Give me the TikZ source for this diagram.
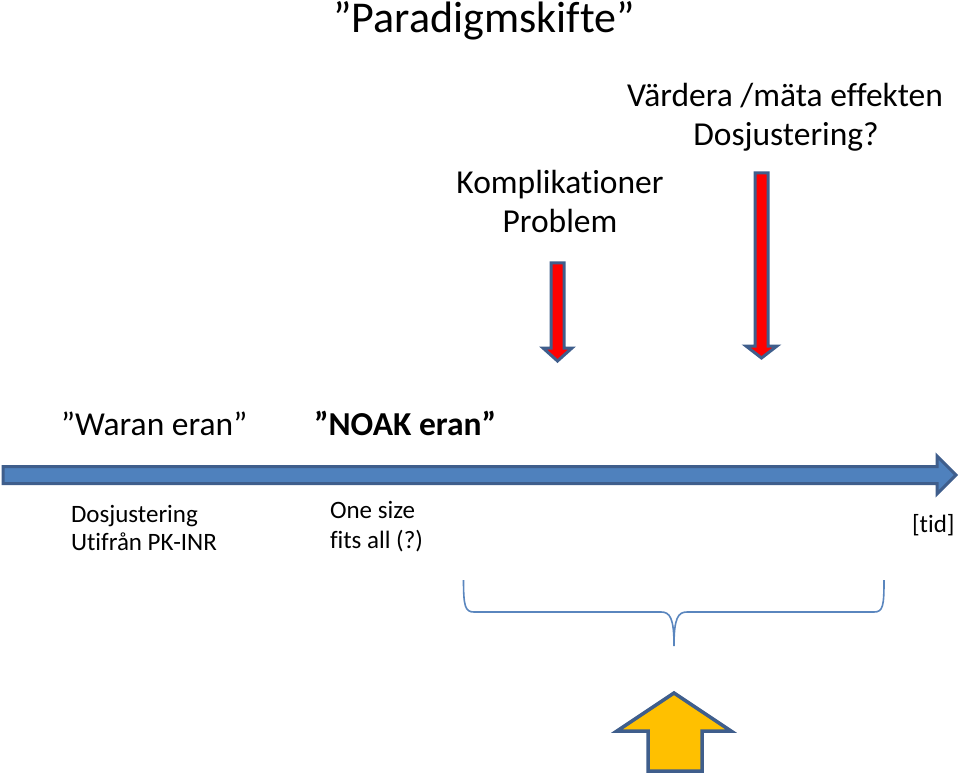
\documentclass[tikz,border=0pt]{standalone}
\usepackage{fontspec}
\setmainfont{Carlito}[Ligatures={NoCommon,NoContextual}]
\definecolor{edgeblue}{HTML}{3F5E8C}
\definecolor{lineblue}{HTML}{4F81BD}
\definecolor{braceblue}{HTML}{5A86BE}
\definecolor{arrowyellow}{HTML}{FFC000}
\begin{document}
\begin{tikzpicture}[x=1pt,y=-1pt,
  txt/.style={inner sep=0pt,outer sep=0pt,text=black},
  big/.style={txt,font=\fontsize{44}{53}\selectfont},
  mid/.style={txt,font=\fontsize{33.5}{40}\selectfont},
  small/.style={txt,font=\fontsize{25}{30}\selectfont},
  redarrow/.style={fill=red,draw=edgeblue,line width=3pt,line join=miter},
  blockarrow/.style={draw=edgeblue,line width=3pt,line join=miter}]
\useasboundingbox (0,0) rectangle (960,775);

% title
\node[big,anchor=base] (title) at (484,33) {”Paradigmskifte”};

% upper labels
\node[mid,anchor=base] (vard) at (785,107) {Värdera /mäta effekten};
\node[mid,anchor=base] (dosq) at (786,146) {Dosjustering?};
\node[mid,anchor=base] (komp) at (560,194) {Komplikationer};
\node[mid,anchor=base] (prob) at (560,233) {Problem};

% red arrows
\draw[redarrow] (551,263) -- (564,263) -- (564,348) -- (572,348) -- (557.5,361)
  -- (543,348) -- (551,348) -- cycle;
\draw[redarrow] (755,173) -- (768,173) -- (768,346) -- (777,346) -- (761.5,358)
  -- (746,346) -- (755,346) -- cycle;

% era labels
\node[mid,anchor=base west] (waran) at (61,435) {”Waran eran”};
\node[mid,anchor=base west,font=\fontsize{33.5}{40}\selectfont\bfseries] (noak) at (314,435) {”NOAK eran”};

% timeline arrow
\draw[blockarrow,fill=lineblue] (3,466.5) -- (937,466.5) -- (937,456) -- (956,475)
  -- (937,494) -- (937,483.5) -- (3,483.5) -- cycle;

% lower labels
\node[small,anchor=base west] (dos1) at (71,522) {Dosjustering};
\node[small,anchor=base west] (dos2) at (71,550) {Utifrån PK-INR};
\node[small,anchor=base west] (one1) at (330,518) {One size};
\node[small,anchor=base west] (one2) at (330,548) {fits all (?)};
\node[small,anchor=base west] (tid) at (912,532) {[tid]};

% brace
\draw[braceblue,line width=1.6pt] (463.5,580) .. controls (463.5,606) and (465,612) .. (474,612)
  -- (661,612) .. controls (670,612) and (674,618) .. (674,646)
  .. controls (674,618) and (678,612) .. (687,612)
  -- (874,612) .. controls (883,612) and (884,606) .. (884,580);

% yellow arrow
\draw[blockarrow,fill=arrowyellow,line width=3.5pt] (674,693) -- (731,731) -- (702,731) -- (702,771)
  -- (648,771) -- (648,731) -- (617,731) -- cycle;
\end{tikzpicture}
\end{document}
